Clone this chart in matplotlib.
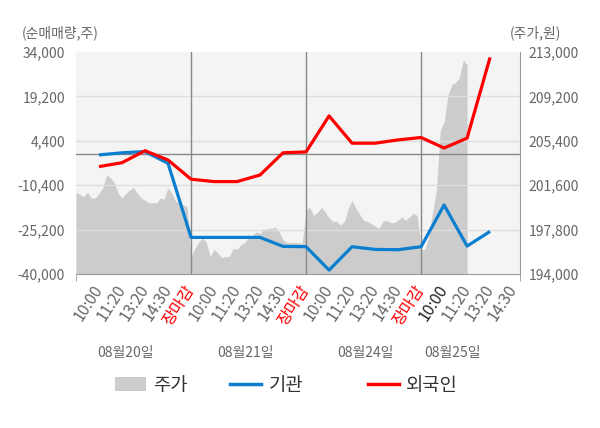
import numpy as np
import matplotlib
matplotlib.use('Agg')
import matplotlib.pyplot as plt
from matplotlib.patches import Patch
from matplotlib.lines import Line2D

plt.rcParams['font.family'] = ['Noto Sans CJK KR', 'DejaVu Sans']

# ---------------- data ----------------
tick_labels = ['10:00', '11:20', '13:20', '14:30', '장마감',
               '10:00', '11:20', '13:20', '14:30', '장마감',
               '10:00', '11:20', '13:20', '14:30', '장마감',
               '10:00', '11:20', '13:20', '14:30']
date_labels = ['08월20일', '08월21일', '08월24일', '08월25일']

# 주가 (price, won) - intraday samples
price_day1 = [201000, 200800, 200600, 201000, 200500, 200500, 200900, 201400, 202500, 202200,
              201800, 200900, 200500, 200900, 201200, 201400, 200900, 200500, 200300, 200100,
              200100, 200100, 200500, 200400, 201400, 200900, 200200, 200100, 199900, 199800]
price_day2 = [195500, 196200, 196700, 197100, 196700, 195500, 196100, 195800, 195400, 195500,
              195500, 196200, 196100, 196500, 196700, 197100, 197300, 197600, 197500, 197800,
              197900, 197900, 198000, 197600, 196900, 196700, 196700, 196700, 196700, 196600]
price_day3 = [199500, 199700, 199000, 199300, 199700, 199300, 198800, 198500, 198500, 198200,
              198500, 199600, 200300, 199600, 199100, 198600, 198500, 198300, 198100, 197900,
              198500, 198600, 198400, 198400, 198600, 198900, 198600, 198900, 199200, 199000]
price_day4 = [196100, 196100, 197200, 199300, 201200, 206300, 207000, 209300, 210200, 210400,
              210800, 212300, 211900]

# 기관 / 외국인 net volume (shares)
inst = [-300, 400, 800, -3100, -27800,
        -27800, -27800, -27800, -30800, -30900,
        -38700, -30900, -31800, -31900, -30900,
        -17000, -30700, -25800]
foreign = [-4200, -2900, 1100, -2000, -8400,
           -9200, -9200, -7000, 400, 700,
           12700, 3600, 3600, 4700, 5500,
           2000, 5300, 32200]

left_ticks = [34000, 19200, 4400, -10400, -25200, -40000]
right_ticks = [213000, 209200, 205400, 201600, 197800, 194000]

# ---------------- style ----------------
BG = '#F4F4F4'
GRAY_AREA = '#CCCCCC'
BLUE = '#0A7FD0'
RED = '#FF0000'
TXT = '#666666'

fig = plt.figure(figsize=(6, 4.28), dpi=100)
rect = [76 / 600, 154 / 428, 444 / 600, 222 / 428]

ax_p = fig.add_axes(rect)
ax_l = fig.add_axes(rect, sharex=ax_p)
ax_l.patch.set_visible(False)
ax_p.set_facecolor(BG)

prices = price_day1 + price_day2 + price_day3 + price_day4
px = np.arange(len(prices)) / 6.0
ax_p.fill_between(px, prices, right_ticks[-1], color=GRAY_AREA, lw=0)
ax_p.set_ylim(right_ticks[-1], right_ticks[0])
ax_p.set_yticks(right_ticks)
ax_p.set_yticklabels([f'{v:,}' for v in right_ticks])
ax_p.yaxis.tick_right()
ax_p.tick_params(axis='y', length=0, pad=6, labelsize=10, labelcolor=TXT)
ax_p.tick_params(axis='x', bottom=False, labelbottom=False, which='both')
for s in ['left', 'top', 'bottom']:
    ax_p.spines[s].set_visible(False)
ax_p.spines['right'].set_color('#999999')

# lines axis
lx = np.arange(1, len(inst) + 1)
ax_l.set_ylim(left_ticks[-1], left_ticks[0])
ax_l.set_xlim(0, 19.3)
for v in left_ticks[1:-1]:
    ax_l.axhline(v, color='#DDDDDD', lw=1, zorder=1)
ax_l.axhline(0, color='#888888', lw=1, zorder=2)
for d in [5, 10, 15]:
    ax_l.axvline(d, color='#888888', lw=1, zorder=2)
ax_l.plot(lx, inst, color=BLUE, lw=2.3, zorder=4, solid_capstyle='butt')
ax_l.plot(lx, foreign, color=RED, lw=2.3, zorder=5, solid_capstyle='butt')

ax_l.set_yticks(left_ticks)
ax_l.set_yticklabels([f'{v:,}' for v in left_ticks])
ax_l.tick_params(axis='y', length=0, pad=8, labelsize=10, labelcolor=TXT)
for s in ['left', 'top', 'right']:
    ax_l.spines[s].set_visible(False)
ax_l.spines['bottom'].set_color('#999999')

ax_l.set_xticks(np.arange(1, len(tick_labels) + 1))
ax_l.set_xticklabels(tick_labels, rotation=57, ha='right', va='center',
                     rotation_mode='anchor', fontsize=11.5)
ax_l.set_xticks([0, 5, 10, 15, 19.3], minor=True)
ax_l.tick_params(axis='x', which='major', length=0, pad=9)
ax_l.tick_params(axis='x', which='minor', length=5, color='#999999')
for i, t in enumerate(ax_l.get_xticklabels()):
    if tick_labels[i] == '장마감':
        t.set_color(RED)
    elif i == 15:
        t.set_color('#222222')
    else:
        t.set_color(TXT)

# date labels
date_pos = [2.13, 7.35, 12.57, 16.35]
for xpos, lab in zip(date_pos, date_labels):
    ax_l.text(xpos, -0.355, lab, transform=ax_l.get_xaxis_transform(),
              ha='center', va='center', fontsize=10, color=TXT)

# unit labels
fig.text(22 / 600, 1 - 33 / 428, '(순매매량,주)', ha='left', va='center', fontsize=10, color=TXT)
fig.text(510 / 600, 1 - 33 / 428, '(주가,원)', ha='left', va='center', fontsize=10, color=TXT)

# legend (three items placed individually)
handles = [Patch(facecolor=GRAY_AREA, edgecolor='none'),
           Line2D([0], [0], color=BLUE, lw=2.5),
           Line2D([0], [0], color=RED, lw=2.5)]
names = ['주가', '기관', '외국인']
leg_x = [115, 230, 368]
for h, n, x0 in zip(handles, names, leg_x):
    fig.legend([h], [n], loc='center left', bbox_to_anchor=(x0 / 600, 1 - 385 / 428),
               frameon=False, fontsize=13.5, labelcolor='#333333',
               handlelength=1.65, handleheight=0.75, handletextpad=0.4,
               borderpad=0, borderaxespad=0)

fig.savefig('out.png', dpi=100)
